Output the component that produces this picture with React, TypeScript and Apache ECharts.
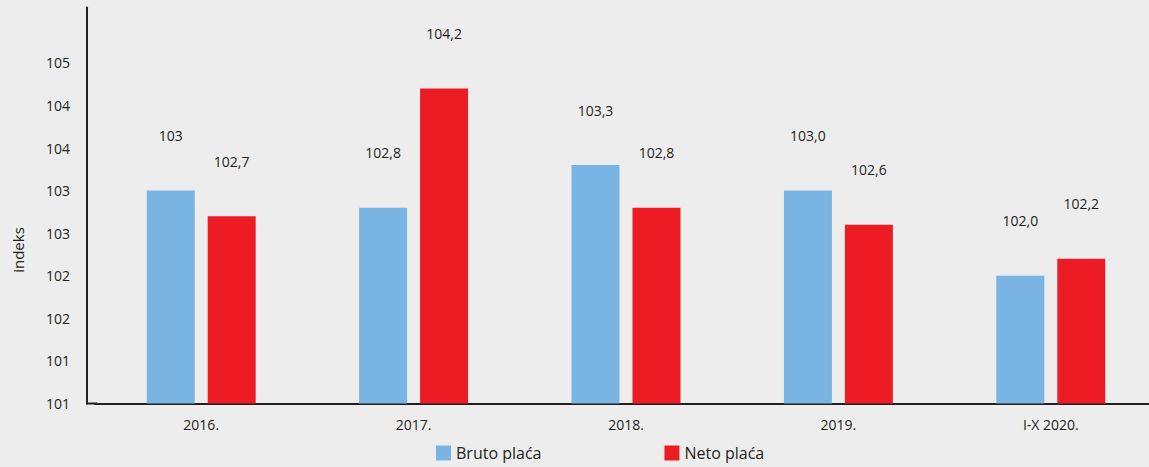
import React, { useEffect, useRef } from "react";
import * as echarts from "echarts";

const categories = ["2016.", "2017.", "2018.", "2019.", "I-X 2020."];
const brutoValues = [103, 102.8, 103.3, 103.0, 102.0];
const netoValues = [102.7, 104.2, 102.8, 102.6, 102.2];
const brutoLabels = ["103", "102,8", "103,3", "103,0", "102,0"];
const netoLabels = ["102,7", "104,2", "102,8", "102,6", "102,2"];
const seriesNames = ["Bruto plaća", "Neto plaća"];
const yAxisName = "indeks";
const yLabelLimit = 104.5;

const FONT = "'Open Sans', sans-serif";
const TEXT = "#231f20";
const BLUE = "#79b4e3";
const RED = "#ed1c24";

export default function App() {
  const ref = useRef<HTMLDivElement>(null);
  useEffect(() => {
    document.body.style.margin = "0";
    document.body.style.overflow = "hidden";
    document.documentElement.style.overflow = "hidden";
    document.body.style.background = "#ededed";
    const chart = echarts.init(ref.current!, null, { renderer: "svg" });
    const labelStyle = (labels: string[]) => ({
      show: true,
      position: "top",
      distance: 48,
      fontFamily: FONT,
      fontSize: 14,
      color: TEXT,
      formatter: (p: any) => labels[p.dataIndex],
    });
    chart.setOption({
      animation: false,
      backgroundColor: "#ededed",
      textStyle: { fontFamily: FONT, color: TEXT },
      grid: { left: 95, right: 0, top: 7.5, height: 396, containLabel: false },
      legend: {
        data: seriesNames,
        left: 431,
        top: 440,
        padding: 5,
        itemWidth: 15,
        itemHeight: 15,
        itemGap: 123,
        icon: "rect",
        textStyle: { fontFamily: FONT, fontSize: 16, color: TEXT },
      },
      xAxis: {
        type: "category",
        data: categories,
        axisLine: { show: true, lineStyle: { color: TEXT, width: 2 } },
        axisTick: { show: false },
        axisLabel: { margin: 14, fontFamily: FONT, fontSize: 14, color: TEXT },
        splitLine: { show: false },
      },
      yAxis: {
        type: "value",
        min: 100.5,
        max: 105.15,
        interval: 0.5,
        offset: 8,
        axisLine: { show: true, lineStyle: { color: TEXT, width: 2 } },
        axisTick: { show: false },
        splitLine: { show: false },
        axisLabel: {
          margin: 17,
          fontFamily: FONT,
          fontSize: 14,
          color: TEXT,
          showMaxLabel: false,
          formatter: (v: number) => (v > yLabelLimit + 0.01 ? "" : String(Math.round(v))),
        },
      },
      graphic: [
        {
          type: "line",
          shape: { x1: 86, y1: 403.5, x2: 97, y2: 403.5 },
          style: { stroke: TEXT, lineWidth: 2 },
        },
        {
          type: "text",
          x: 18,
          y: 250,
          rotation: Math.PI / 2,
          style: {
            text: yAxisName,
            fontFamily: FONT,
            fontSize: 15,
            fill: TEXT,
            textAlign: "center",
            textVerticalAlign: "middle",
          },
        },
      ],
      series: [
        {
          name: seriesNames[0],
          type: "bar",
          data: brutoValues,
          barWidth: 48,
          barGap: "27%",
          itemStyle: { color: BLUE },
          label: labelStyle(brutoLabels),
        },
        {
          name: seriesNames[1],
          type: "bar",
          data: netoValues,
          barWidth: 48,
          barGap: "27%",
          itemStyle: { color: RED },
          label: labelStyle(netoLabels),
        },
      ],
    });
    return () => chart.dispose();
  }, []);
  return <div ref={ref} style={{ width: 1157, height: 467 }} />;
}
